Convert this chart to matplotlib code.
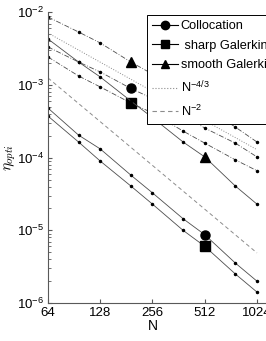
import numpy as np
import matplotlib
matplotlib.use("Agg")
import matplotlib.pyplot as plt
from matplotlib.lines import Line2D
from matplotlib.ticker import FixedLocator, NullLocator, LogLocator, NullFormatter

plt.rcParams['font.family'] = ['Liberation Sans', 'DejaVu Sans']
plt.rcParams['mathtext.fontset'] = 'cm'

# grid sizes
N = [64, 96, 128, 192, 256, 384, 512, 768, 1024]

# log10(eta_opt)
# dash-dot group (big markers at N=192)
smooth_dd = [-2.065, -2.271, -2.422, -2.684, -2.85, -3.125, -3.304, -3.579, -3.785]
colloc_dd = [-2.477, -2.684, -2.821, -3.048, -3.186, -3.41, -3.593, -3.80, -3.99]
sharp_dd = [-2.615, -2.876, -3.027, -3.248, -3.385, -3.634, -3.80, -4.03, -4.18]
# solid group (big markers at N=512)
smooth_s = [-2.367, -2.684, -2.89, -3.22, -3.45, -3.784, -3.99, -4.39, -4.64]
colloc_s = [-3.318, -3.69, -3.88, -4.24, -4.485, -4.84, -5.06, -5.45, -5.70]
sharp_s = [-3.428, -3.785, -4.047, -4.39, -4.64, -5.0, -5.22, -5.60, -5.85]

# reference slopes, value at N=64
ref43_at64 = 5.19e-3
ref2_at64 = 1.25e-3

xticks = [64, 128, 256, 512, 1024]

W, H = 266, 341
fig = plt.figure(figsize=(W / 100, H / 100), dpi=100)
xmax = 1200
octave_px = 52.25
width = np.log2(xmax / 64) * octave_px / W
ax = fig.add_axes([48 / W, 1 - 303 / H, width, (303 - 12.3) / H])
ax.set_xscale('log')
ax.set_yscale('log')

line_c = '0.3'
N_arr = np.array(N)

series = [
    (smooth_dd, (0, (6, 2, 1, 2)), '^', 3),
    (colloc_dd, (0, (6, 2, 1, 2)), 'o', 3),
    (sharp_dd, (0, (6, 2, 1, 2)), 's', 3),
    (smooth_s, '-', '^', 6),
    (colloc_s, '-', 'o', 6),
    (sharp_s, '-', 's', 6),
]
for vals, ls, mk, big in series:
    y = 10 ** np.array(vals)
    ax.plot(N_arr, y, linestyle=ls, color=line_c, lw=0.6,
            marker='.', markersize=3, mfc='k', mec='k')
    ax.plot(N_arr[big], y[big], linestyle='none', marker=mk, markersize=6.5,
            color='k')

ax.plot(N_arr, ref43_at64 * (N_arr / 64.0) ** (-4 / 3), ':', color='0.55', lw=0.7)
ax.plot(N_arr, ref2_at64 * (N_arr / 64.0) ** (-2), '--', color='0.55', lw=0.7,
        dashes=(4, 3))

ax.set_xlim(64, xmax)
ax.set_ylim(1e-6, 1e-2)
ax.xaxis.set_major_locator(FixedLocator(xticks))
ax.xaxis.set_minor_locator(NullLocator())
ax.set_xticklabels([str(t) for t in xticks])
ax.yaxis.set_major_locator(LogLocator(base=10, numticks=10))
ax.yaxis.set_minor_locator(LogLocator(base=10, subs=np.arange(2, 10), numticks=10))
ax.yaxis.set_minor_formatter(NullFormatter())

for s in ['top', 'right']:
    ax.spines[s].set_visible(False)
for s in ['left', 'bottom']:
    ax.spines[s].set_color('0.35')
    ax.spines[s].set_linewidth(0.8)
ax.tick_params(which='both', direction='in', colors='0.35', labelcolor='k',
               labelsize=9.5, pad=3)
ax.tick_params(which='major', length=3)
ax.tick_params(which='minor', length=1.8)

ax.set_xlabel('N', fontsize=10, labelpad=0)
ax.xaxis.set_label_coords(np.log2(256 / 64) / np.log2(xmax / 64), -0.055)
ax.set_ylabel(r'$\eta_{opti}$', fontsize=11, labelpad=0)
ax.yaxis.set_label_coords(-0.135, 0.5)

handles = [
    Line2D([], [], color='k', lw=0.8, marker='o', markersize=6),
    Line2D([], [], color='k', lw=0.8, marker='s', markersize=5.5),
    Line2D([], [], color='k', lw=0.8, marker='^', markersize=6),
    Line2D([], [], color='0.55', lw=0.8, linestyle=':'),
    Line2D([], [], color='0.55', lw=0.8, linestyle='--', dashes=(4, 3)),
]
labels = ['Collocation', ' sharp Galerkin', 'smooth Galerkin',
          r'N$^{\mathregular{-4/3}}$', r'N$^{\mathregular{-2}}$']
leg = fig.legend(handles, labels, loc='upper left',
                 bbox_to_anchor=(147 / W, 1 - 15 / H),
                 fontsize=9.2, fancybox=False, framealpha=1, edgecolor='k',
                 borderpad=0.4, labelspacing=0.6, handlelength=2.0,
                 handletextpad=0.25, borderaxespad=0)
leg.get_frame().set_linewidth(0.7)

fig.savefig('out.png', dpi=100)
